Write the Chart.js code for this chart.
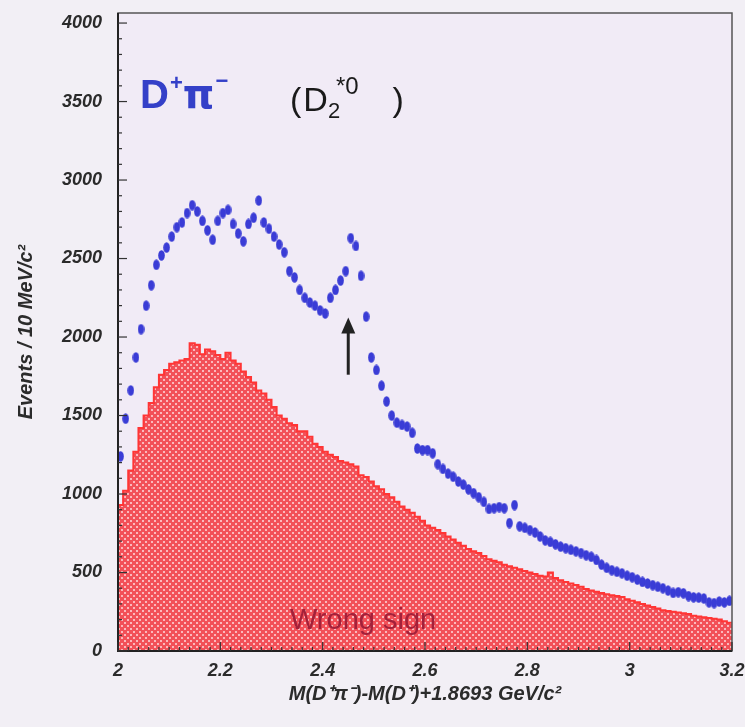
<!DOCTYPE html>
<html>
<head>
<meta charset="utf-8">
<script src="https://cdn.jsdelivr.net/npm/chart.js@4/dist/chart.umd.min.js"></script>
<style>
  html, body { margin: 0; padding: 0; background: #f2eff5; }
</style>
</head>
<body>
<canvas id="massChart" width="745" height="727"></canvas>
<script>
// bins of 10 MeV starting at 2.0
const binStart = 2.0;
const binWidth = 0.01;

// D+ pi- (right sign) points
const rightSign = [
  1240,1480,1660,1870,2050,2200,2330,2460,2520,2570,
  2640,2700,2730,2790,2840,2800,2740,2680,2620,2740,
  2790,2810,2720,2660,2610,2720,2760,2870,2730,2690,
  2640,2590,2540,2420,2380,2300,2250,2220,2200,2170,
  2150,2250,2300,2360,2420,2630,2580,2390,2130,1870,
  1790,1690,1590,1500,1455,1440,1430,1390,1290,1280,
  1280,1260,1190,1160,1130,1110,1080,1060,1030,1006,
  980,950,905,910,917,910,815,930,795,785,
  770,755,730,705,695,680,665,655,645,635,
  624,610,600,580,550,530,515,505,495,480,
  470,455,440,430,420,410,400,385,370,375,
  368,350,342,340,335,310,305,315,310,320
];

// wrong sign histogram
const wrongSign = [
  930,1020,1150,1270,1420,1500,1580,1680,1760,1790,
  1830,1840,1850,1860,1960,1950,1890,1920,1910,1885,
  1860,1900,1850,1830,1780,1745,1710,1660,1640,1600,
  1554,1500,1480,1450,1440,1400,1400,1365,1320,1300,
  1270,1250,1236,1210,1200,1190,1175,1120,1108,1080,
  1050,1030,1000,980,950,920,900,880,855,830,
  800,785,770,752,730,710,690,670,650,635,
  624,605,585,575,565,550,540,530,520,510,
  500,490,480,475,500,465,450,440,430,420,
  410,395,385,378,370,362,355,350,344,330,
  320,310,300,290,280,270,260,255,250,245,
  240,235,225,220,215,210,205,200,190,180
];

const xTicks = [2, 2.2, 2.4, 2.6, 2.8, 3, 3.2];
const yTicks = [0, 500, 1000, 1500, 2000, 2500, 3000, 3500, 4000];

// D2*0 arrow (mass, from, to)
const arrowMass = 2.45;
const arrowFrom = 1760;
const arrowTo = 2125;

// points & histogram edges
const bluePts = rightSign.map((v, i) => ({ x: binStart + (i + 0.5) * binWidth, y: v }));
const redSteps = wrongSign.map((v, i) => ({ x: binStart + i * binWidth, y: v }));
redSteps.push({ x: binStart + wrongSign.length * binWidth, y: wrongSign[wrongSign.length - 1] });

// hatch pattern for wrong sign fill
const pc = document.createElement('canvas');
pc.width = 6; pc.height = 6;
const pctx = pc.getContext('2d');
pctx.fillStyle = '#f25058'; pctx.fillRect(0, 0, 6, 6);
pctx.fillStyle = '#fbb8bc';
pctx.fillRect(1, 1, 2, 2); pctx.fillRect(4, 4, 2, 2);
const ctx = document.getElementById('massChart').getContext('2d');
const hatch = ctx.createPattern(pc, 'repeat');

// point marker, taller than wide (error bar look)
const pm = document.createElement('canvas');
pm.width = 7; pm.height = 11;
const pmctx = pm.getContext('2d');
pmctx.fillStyle = '#3a3cd6';
pmctx.beginPath(); pmctx.ellipse(3.5, 5.5, 3.3, 5.3, 0, 0, Math.PI * 2); pmctx.fill();

const tickFont = { family: 'Liberation Sans', size: 18, weight: 'bold', style: 'italic' };
const titleFont = { family: 'Liberation Sans', size: 20, weight: 'bold', style: 'italic' };

const decorations = {
  id: 'decorations',
  beforeDraw(chart) {
    const a = chart.chartArea, c = chart.ctx;
    c.save();
    c.fillStyle = '#f1ebf6';
    c.fillRect(a.left, a.top, a.right - a.left, a.bottom - a.top);
    c.restore();
  },
  afterDraw(chart) {
    const a = chart.chartArea, c = chart.ctx;
    const xs = chart.scales.x, ys = chart.scales.y;
    c.save();
    // frame
    c.strokeStyle = '#555'; c.lineWidth = 1.5;
    c.strokeRect(a.left, a.top, a.right - a.left, a.bottom - a.top);
    c.strokeStyle = '#222'; c.lineWidth = 2;
    c.beginPath(); c.moveTo(a.left, a.top); c.lineTo(a.left, a.bottom); c.lineTo(a.right, a.bottom); c.stroke();
    // inward ticks
    c.lineWidth = 1.2; c.strokeStyle = '#333';
    for (let v = 0; v <= 4000; v += 100) {
      const y = ys.getPixelForValue(v), len = v % 500 === 0 ? 9 : 4;
      c.beginPath(); c.moveTo(a.left, y); c.lineTo(a.left + len, y); c.stroke();
    }
    for (let k = 0; k <= 60; k++) {
      const x = xs.getPixelForValue(2 + k * 0.02), len = k % 10 === 0 ? 9 : 4;
      c.beginPath(); c.moveTo(x, a.bottom); c.lineTo(x, a.bottom - len); c.stroke();
    }
    // arrow
    const ax = xs.getPixelForValue(arrowMass), y0 = ys.getPixelForValue(arrowFrom), y1 = ys.getPixelForValue(arrowTo);
    c.strokeStyle = '#222'; c.fillStyle = '#222'; c.lineWidth = 3;
    c.beginPath(); c.moveTo(ax, y0); c.lineTo(ax, y1 + 12); c.stroke();
    c.beginPath(); c.moveTo(ax, y1); c.lineTo(ax - 7, y1 + 16); c.lineTo(ax + 7, y1 + 16); c.closePath(); c.fill();

    // D+ pi- label
    c.textBaseline = 'alphabetic';
    c.fillStyle = '#3440c8';
    let x = a.left + 22, base = a.top + 95;
    c.font = 'bold 40px "Liberation Sans"';
    c.fillText('D', x, base); x += c.measureText('D').width + 1;
    c.font = 'bold 22px "Liberation Sans"';
    c.fillText('+', x, base - 18); x += c.measureText('+').width;
    c.font = 'bold 40px "DejaVu Sans"';
    c.fillText('π', x, base); x += c.measureText('π').width + 1;
    c.font = 'bold 22px "Liberation Sans"';
    c.fillText('−', x, base - 20);

    // (D2*0)
    c.fillStyle = '#1a1a1a';
    x = a.left + 172; base = a.top + 98;
    c.font = '34px "Liberation Sans"';
    c.fillText('(', x, base); x += c.measureText('(').width + 2;
    c.fillText('D', x, base); x += c.measureText('D').width;
    c.font = '22px "Liberation Sans"';
    c.fillText('2', x, base + 7);
    c.font = '24px "Liberation Sans"';
    c.fillText('*0', x + 8, base - 17); x += c.measureText('*0').width + 42;
    c.font = '34px "Liberation Sans"';
    c.fillText(')', x, base);

    // Wrong sign
    c.fillStyle = '#a3203a';
    c.font = '29px "Liberation Sans"';
    c.textAlign = 'left';
    c.fillText('Wrong sign', a.left + 172, a.bottom - 22);
    c.restore();
  }
};

new Chart(ctx, {
  type: 'scatter',
  data: {
    datasets: [
      {
        label: 'D+ pi-',
        data: bluePts,
        pointStyle: pm,
        pointRadius: 4,
        showLine: false,
        order: 0
      },
      {
        label: 'Wrong sign',
        data: redSteps,
        type: 'line',
        stepped: 'before',
        fill: 'origin',
        backgroundColor: hatch,
        borderColor: '#ff3535',
        borderWidth: 2,
        pointRadius: 0,
        order: 1
      }
    ]
  },
  options: {
    responsive: false,
    animation: false,
    events: [],
    layout: { padding: { top: 13, right: 13, left: 0, bottom: 0 } },
    plugins: { legend: { display: false }, tooltip: { enabled: false } },
    scales: {
      x: {
        type: 'linear', min: 2, max: 3.2,
        afterBuildTicks: s => { s.ticks = xTicks.map(v => ({ value: v })); },
        afterFit: s => { s.height = 76; s.paddingLeft = 0; s.paddingRight = 0; },
        grid: { display: false, drawTicks: false },
        border: { display: false },
        ticks: { font: tickFont, color: '#2b2b2b', padding: 9, maxRotation: 0, callback: v => String(+v.toFixed(1)) },
        title: { display: true, text: 'M(D⁺π⁻)-M(D⁺)+1.8693 GeV/c²', font: titleFont, color: '#2b2b2b', padding: { top: 21, bottom: 21 } }
      },
      y: {
        min: 0, max: 4064,
        afterBuildTicks: s => { s.ticks = yTicks.map(v => ({ value: v })); },
        afterFit: s => { s.width = 118; s.paddingTop = 0; s.paddingBottom = 0; },
        grid: { display: false, drawTicks: false },
        border: { display: false },
        ticks: { font: tickFont, color: '#2b2b2b', padding: 16, callback: v => String(v) },
        title: { display: true, text: 'Events / 10 MeV/c²', font: titleFont, color: '#2b2b2b', padding: { top: 14, bottom: 14 } }
      }
    }
  },
  plugins: [decorations]
});
</script>
</body>
</html>
